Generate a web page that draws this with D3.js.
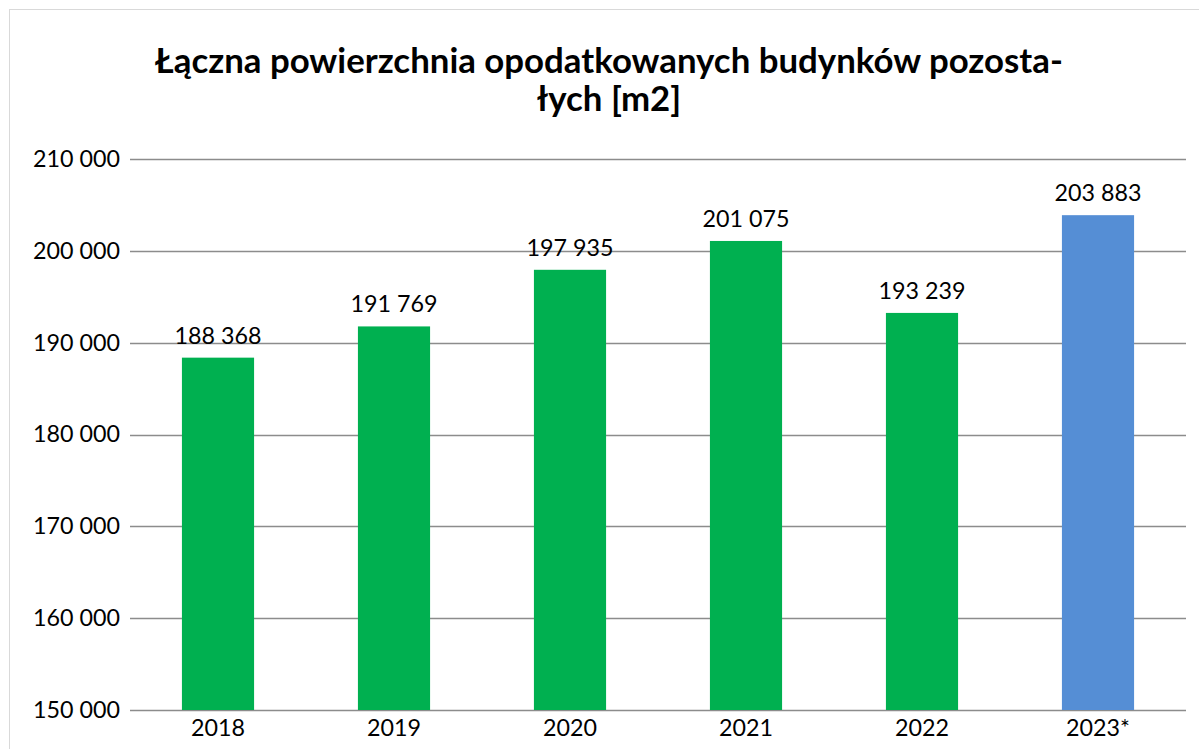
<!DOCTYPE html>
<html>
<head>
<meta charset="utf-8">
<script src="https://cdn.jsdelivr.net/npm/d3@7"></script>
<style>
  html, body { margin: 0; padding: 0; background: #fff; }
  svg { display: block; font-family: Lato, "Open Sans", sans-serif; }
</style>
</head>
<body>
<svg id="chart" width="1199" height="749"></svg>
<script>
// Chart data
const categories = ["2018", "2019", "2020", "2021", "2022", "2023*"];
const values = [188368, 191769, 197935, 201075, 193239, 203883];
const barColors = ["#00b050", "#00b050", "#00b050", "#00b050", "#00b050", "#558ed5"];
const yTicks = [150000, 160000, 170000, 180000, 190000, 200000, 210000];
const titleLines = ["Łączna powierzchnia opodatkowanych budynków pozosta-", "łych [m2]"];

const svg = d3.select("#chart");
const W = 1199, H = 749;
const margin = { left: 130, right: 13, top: 159, bottom: 39 };

// thousands separated by a space, like the source
const fmt = (v) => d3.format(",")(v).replace(/,/g, " ");

// pick a font size so that a sample string has the wanted width
function fitSize(sample, weight, target) {
  const t = svg.append("text")
    .attr("font-size", 20)
    .attr("font-weight", weight)
    .text(sample);
  const w = t.node().getComputedTextLength();
  t.remove();
  return 20 * target / w;
}

const labelSize = fitSize("210 000", "normal", 87);

// outer frame of the chart area
svg.append("rect")
  .attr("x", 9.5).attr("y", 9.5)
  .attr("width", W + 10).attr("height", H + 10)
  .attr("fill", "none")
  .attr("stroke", "#d9d9d9")
  .attr("stroke-width", 1);

const x = d3.scaleBand()
  .domain(categories)
  .range([margin.left, W - margin.right])
  .paddingInner(0.59)
  .paddingOuter(0.295);

const y = d3.scaleLinear()
  .domain([150000, 210000])
  .range([H - margin.bottom, margin.top]);

// gridlines
svg.append("g")
  .selectAll("line")
  .data(yTicks)
  .join("line")
  .attr("x1", margin.left)
  .attr("x2", W - margin.right)
  .attr("y1", (d) => Math.round(y(d)) + 0.5)
  .attr("y2", (d) => Math.round(y(d)) + 0.5)
  .attr("stroke", "#8c8c8c")
  .attr("stroke-width", 1.6);

// y axis labels
const yAxis = d3.axisLeft(y)
  .tickValues(yTicks)
  .tickFormat(fmt)
  .tickSize(0)
  .tickPadding(10);

svg.append("g")
  .attr("transform", "translate(" + margin.left + ",0)")
  .call(yAxis)
  .call((g) => g.select(".domain").remove())
  .selectAll("text")
  .attr("font-family", "Lato, sans-serif")
  .attr("font-size", labelSize)
  .attr("fill", "#000");

// bars
svg.append("g")
  .selectAll("rect")
  .data(values)
  .join("rect")
  .attr("x", (d, i) => x(categories[i]))
  .attr("y", (d) => y(d))
  .attr("width", x.bandwidth())
  .attr("height", (d) => y(150000) - y(d))
  .attr("fill", (d, i) => barColors[i]);

// value labels
svg.append("g")
  .selectAll("text")
  .data(values)
  .join("text")
  .attr("x", (d, i) => x(categories[i]) + x.bandwidth() / 2)
  .attr("y", (d) => y(d) - 14)
  .attr("text-anchor", "middle")
  .attr("font-size", labelSize)
  .attr("fill", "#000")
  .text(fmt);

// x axis labels
const xAxis = d3.axisBottom(x).tickSize(0).tickPadding(9);
svg.append("g")
  .attr("transform", "translate(0," + (H - margin.bottom) + ")")
  .call(xAxis)
  .call((g) => g.select(".domain").remove())
  .selectAll("text")
  .attr("font-family", "Lato, sans-serif")
  .attr("font-size", labelSize)
  .attr("fill", "#000");

// title, sized to the width of the first line
const title = svg.append("text")
  .attr("text-anchor", "middle")
  .attr("font-weight", "bold")
  .attr("font-size", fitSize(titleLines[0], "bold", 908))
  .attr("fill", "#000");

title.selectAll("tspan")
  .data(titleLines)
  .join("tspan")
  .attr("x", 609)
  .attr("y", (d, i) => 73 + i * 38)
  .text((d) => d);
</script>
</body>
</html>
